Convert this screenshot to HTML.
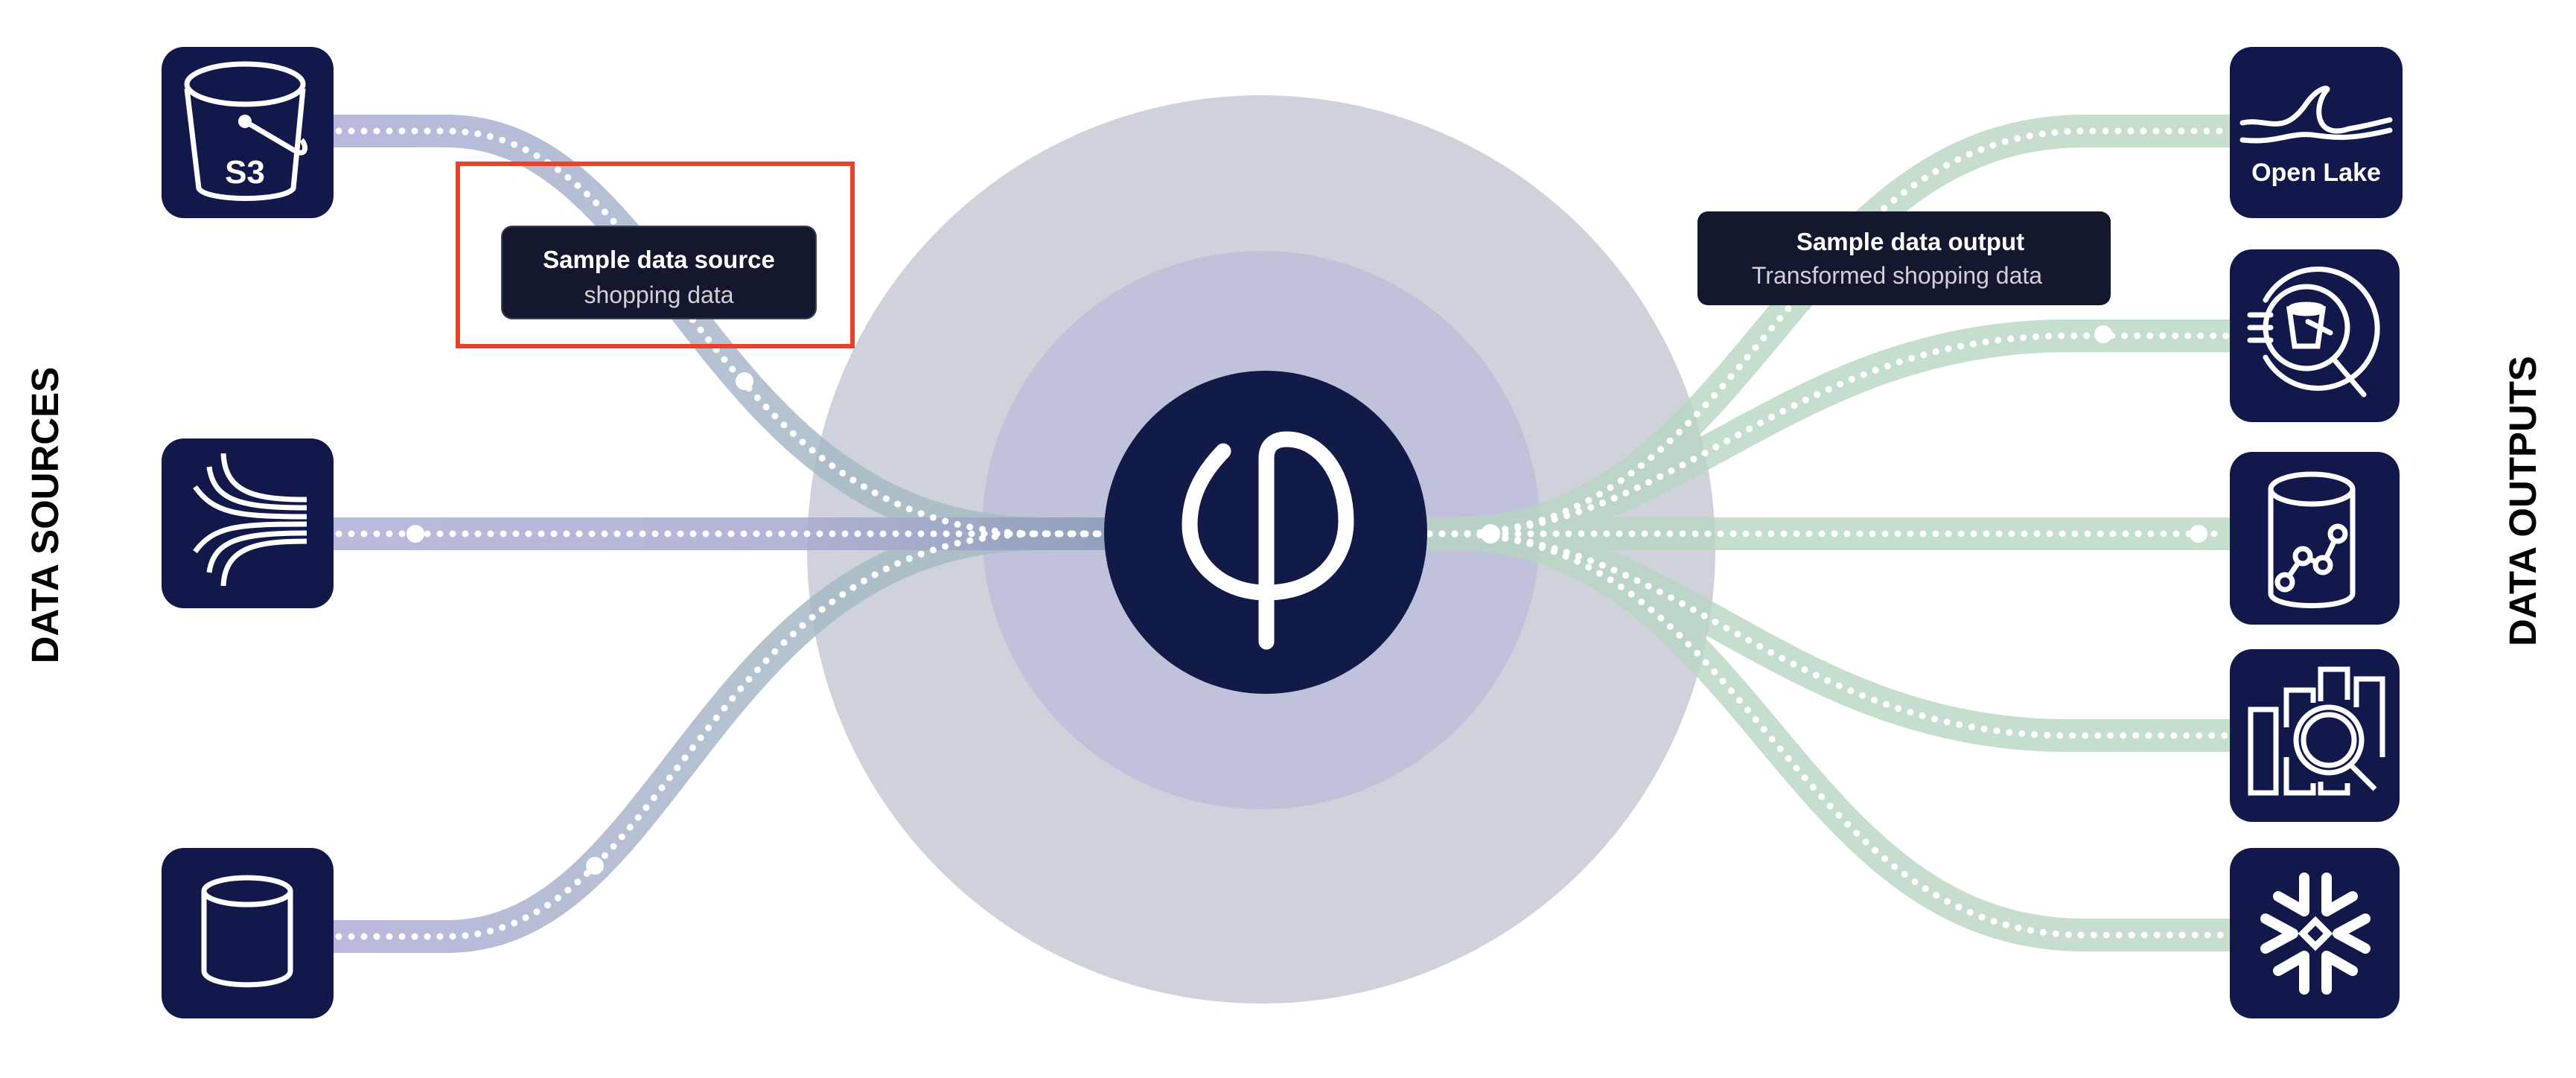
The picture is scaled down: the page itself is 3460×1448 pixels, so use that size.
<!DOCTYPE html>
<html><head><meta charset="utf-8">
<style>
html,body{margin:0;padding:0;background:#fff;}
svg{display:block;}
text{font-family:"Liberation Sans",sans-serif;}
</style></head>
<body>
<svg width="3460" height="1448" viewBox="0 0 3460 1448" xmlns="http://www.w3.org/2000/svg">
<defs>
<linearGradient id="lg" gradientUnits="userSpaceOnUse" x1="448" y1="0" x2="1200" y2="0">
<stop offset="0" stop-color="#acacd6"/><stop offset="1" stop-color="#a6bcc4"/>
</linearGradient>
<linearGradient id="lgm" gradientUnits="userSpaceOnUse" x1="448" y1="0" x2="1500" y2="0">
<stop offset="0" stop-color="#aeaed6"/><stop offset="0.6" stop-color="#a8aad0"/><stop offset="1" stop-color="#8b9bb6"/>
</linearGradient>
</defs>

<circle cx="1694" cy="738" r="610" fill="#cfd2db"/>
<circle cx="1694" cy="712" r="375" fill="#c0c1da"/>

<g fill="none" stroke-width="44" opacity="0.85">
<path d="M448,176 L600,176 C900,176 950,717 1400,717 L1700,717" stroke="url(#lg)"/>
<path d="M448,1258 L600,1258 C900,1258 950,717 1400,717 L1700,717" stroke="url(#lg)"/>
<path d="M448,717 L1700,717" stroke="url(#lgm)"/>
</g>
<g fill="none" stroke="#b9d6c3" stroke-width="44" opacity="0.8">
<path d="M1700,717 L1950,717 C2350,717 2400,176 2800,176 L2995,176"/>
<path d="M1700,717 L1950,717 C2250,717 2400,451 2780,451 L2995,451"/>
<path d="M1700,717 L2995,717"/>
<path d="M1700,717 L1950,717 C2250,717 2400,988 2780,988 L2995,988"/>
<path d="M1700,717 L1950,717 C2350,717 2400,1256 2800,1256 L2995,1256"/>
</g>
<g fill="none" stroke="#ffffff" stroke-width="9" stroke-linecap="round" stroke-dasharray="0 17">
<path d="M455,176 L600,176 C900,176 950,717 1400,717 L1480,717"/>
<path d="M455,1258 L600,1258 C900,1258 950,717 1400,717 L1480,717"/>
<path d="M455,717 L1480,717"/>
<path d="M1920,717 L1950,717 C2350,717 2400,176 2800,176 L2990,176"/>
<path d="M1920,717 L1950,717 C2250,717 2400,451 2780,451 L2990,451"/>
<path d="M1920,717 L2990,717"/>
<path d="M1920,717 L1950,717 C2250,717 2400,988 2780,988 L2990,988"/>
<path d="M1920,717 L1950,717 C2350,717 2400,1256 2800,1256 L2990,1256"/>
</g>
<g fill="#fff">
<circle cx="558" cy="717" r="12"/><circle cx="1000" cy="512" r="12"/><circle cx="799" cy="1163" r="12"/>
<circle cx="2002" cy="717" r="13"/><circle cx="2825" cy="449" r="12"/><circle cx="2490" cy="554" r="12"/>
<circle cx="2953" cy="717" r="12"/><circle cx="2476" cy="867" r="12"/><circle cx="2545" cy="1100" r="12"/>
</g>

<circle cx="1700" cy="715" r="217" fill="#121a48"/>
<g fill="none" stroke="#fff" stroke-width="21" stroke-linecap="round">
<path d="M1643,606 C1610,640 1598,672 1598,705 C1598,755 1640,796 1701,796"/>
<path d="M1701,862 L1701,615 C1701,598 1712,590 1728,590 C1775,590 1808,640 1808,700 C1808,752 1770,796 1701,796"/>
</g>

<rect x="615" y="220" width="530" height="245" fill="none" stroke="#e8432a" stroke-width="6"/>
<rect x="674" y="304" width="422" height="124" rx="14" fill="#14182e" stroke="#3a3f55" stroke-width="2"/>
<text x="885" y="360" text-anchor="middle" font-size="33" font-weight="bold" fill="#fff">Sample data source</text>
<text x="885" y="407" text-anchor="middle" font-size="32" fill="#d0d0d6">shopping data</text>

<rect x="2280" y="284" width="555" height="126" rx="14" fill="#14182e"/>
<text x="2566" y="336" text-anchor="middle" font-size="33" font-weight="bold" fill="#fff">Sample data output</text>
<text x="2548" y="381" text-anchor="middle" font-size="32" fill="#d0d0d6">Transformed shopping data</text>

<text transform="translate(78,692) rotate(-90)" text-anchor="middle" font-size="51" font-weight="bold" fill="#000">DATA SOURCES</text>
<text transform="translate(3406,673) rotate(-90)" text-anchor="middle" font-size="51" font-weight="bold" fill="#000">DATA OUTPUTS</text>

<g transform="translate(217,63)">
<rect width="231" height="230" rx="30" fill="#12184a"/>
<g fill="none" stroke="#fff" stroke-width="7">
<ellipse cx="112" cy="50" rx="78" ry="27"/>
<path d="M34,56 L50,190 C60,208 165,208 177,190 L190,56"/>
<path d="M112,100 L180,140 C195,148 195,132 188,125"/>
</g>
<circle cx="112" cy="100" r="9" fill="#fff"/>
<text x="112" y="183" text-anchor="middle" font-size="44" font-weight="bold" fill="#fff">S3</text>
</g>
<g transform="translate(217,589)">
<rect width="231" height="228" rx="30" fill="#12184a"/>
<g fill="none" stroke="#fff" stroke-width="7">
<path d="M45,65 C70,100 100,105 195,105"/>
<path d="M64,38 C70,85 110,93 195,93"/>
<path d="M83,20 C85,75 130,82 195,82"/>
<path d="M45,152 C70,118 100,115 195,115"/>
<path d="M64,180 C70,135 110,127 195,127"/>
<path d="M83,198 C85,145 130,138 195,138"/>
</g>
</g>
<g transform="translate(217,1139)">
<rect width="231" height="229" rx="30" fill="#12184a"/>
<g fill="none" stroke="#fff" stroke-width="7">
<ellipse cx="115" cy="58" rx="58" ry="18"/>
<path d="M57,58 L57,165 C57,190 173,190 173,165 L173,58"/>
</g>
</g>

<g transform="translate(2995,63)">
<rect width="232" height="230" rx="30" fill="#12184a"/>
<g fill="none" stroke="#fff" stroke-width="7" stroke-linecap="round">
<path d="M17,102 C50,95 70,120 100,80 C120,50 135,55 130,58 C112,80 115,125 160,110 C190,105 205,100 215,98"/>
<path d="M17,125 C60,130 80,115 110,118 C140,122 160,125 215,112"/>
</g>
<text x="116" y="180" text-anchor="middle" font-size="34" font-weight="bold" fill="#fff">Open Lake</text>
</g>
<g transform="translate(2995,335)">
<rect width="228" height="232" rx="30" fill="#12184a"/>
<g fill="none" stroke="#fff" stroke-width="7" stroke-linecap="round">
<path d="M48,68 A80,80 0 1 1 48,145"/>
<circle cx="103" cy="105" r="55"/>
<path d="M140,148 L180,195"/>
<path d="M27,88 L55,88 M27,105 L55,105 M27,122 L55,122"/>
<path d="M80,80 L87,130 L118,130 L125,80 Z"/>
<ellipse cx="103" cy="80" rx="22" ry="6"/>
<path d="M105,97 L135,112"/>
</g>
</g>
<g transform="translate(2995,607)">
<rect width="228" height="232" rx="30" fill="#12184a"/>
<g fill="none" stroke="#fff" stroke-width="7">
<ellipse cx="110" cy="50" rx="55" ry="20"/>
<path d="M55,50 L55,190 C55,212 165,212 165,190 L165,50"/>
<path d="M74,175 L98,140 L125,152 L145,110"/>
<circle cx="74" cy="175" r="10" fill="#12184a"/><circle cx="98" cy="140" r="10" fill="#12184a"/>
<circle cx="125" cy="152" r="10" fill="#12184a"/><circle cx="145" cy="110" r="10" fill="#12184a"/>
</g>
</g>
<g transform="translate(2995,872)">
<rect width="228" height="232" rx="30" fill="#12184a"/>
<g fill="none" stroke="#fff" stroke-width="7">
<rect x="28" y="81" width="34" height="112"/>
<path d="M76,145 L76,193 L112,193 L112,180 M76,105 L76,55 L112,55 L112,72"/>
<path d="M122,70 L122,27 L158,27 L158,68 M122,178 L122,193 L158,193 L158,180"/>
<path d="M170,78 L170,40 L205,40 L205,145"/>
<circle cx="133" cy="122" r="44"/><circle cx="133" cy="122" r="34"/>
<path d="M162,155 L195,188"/>
</g>
</g>
<g transform="translate(2995,1139)">
<rect width="228" height="229" rx="30" fill="#12184a"/>
<g fill="none" stroke="#fff" stroke-width="14" stroke-linecap="round" stroke-linejoin="round">
<path d="M100,40 L100,85 L65,65"/><path d="M130,40 L130,85 L165,65"/>
<path d="M100,190 L100,145 L65,165"/><path d="M130,190 L130,145 L165,165"/>
<path d="M48,95 L85,115 L48,135"/><path d="M182,95 L145,115 L182,135"/>
</g>
<path d="M115,98 L132,115 L115,132 L98,115 Z" fill="none" stroke="#fff" stroke-width="9"/>
</g>
</svg>
</body></html>
